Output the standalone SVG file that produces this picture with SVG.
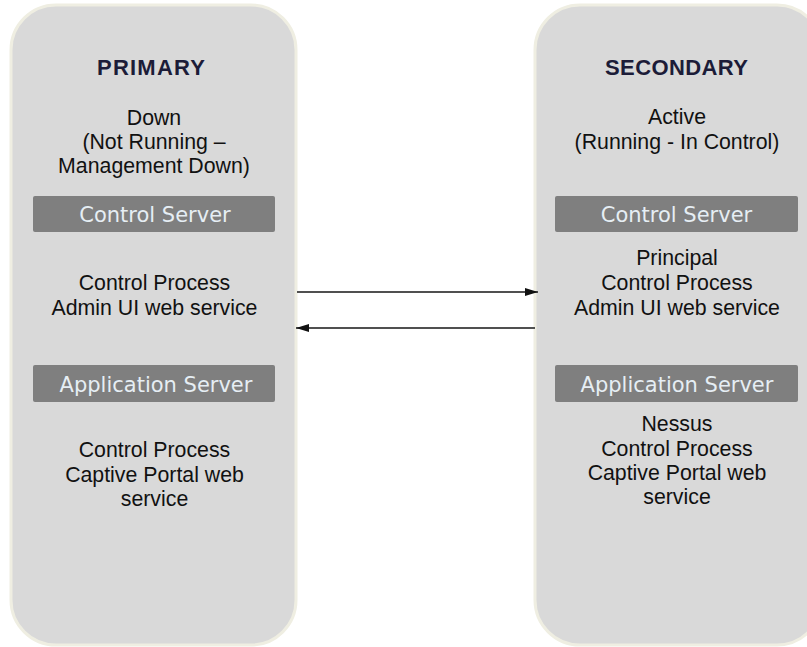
<svg xmlns="http://www.w3.org/2000/svg" width="807" height="647" viewBox="0 0 807 647">
  <defs>
    <style>
      .panel { fill: #d9d9d9; stroke: #efeee2; stroke-width: 3; }
      .bar { fill: #7f7f7f; }
      .bar-label { font-family: "DejaVu Sans", Verdana, sans-serif; font-size: 21px; fill: #e6eef4; text-anchor: middle; }
      .title { font-family: "Liberation Sans", Arial, sans-serif; font-weight: bold; font-size: 22px; fill: #1c1c38; text-anchor: middle; }
      .body { font-family: "Liberation Sans", Arial, sans-serif; font-size: 21.3px; fill: #111111; text-anchor: middle; }
      .link { stroke: #505050; stroke-width: 2; fill: none; }
    </style>
    <marker id="arrowhead" viewBox="0 0 13 8" refX="13" refY="4" markerWidth="13" markerHeight="8" markerUnits="userSpaceOnUse" orient="auto">
      <path d="M0,0 L13,4 L0,8 Z" fill="#111111"/>
    </marker>
  </defs>

  <rect width="807" height="647" fill="#ffffff"/>

  <!-- Primary node -->
  <g id="primary">
    <rect class="panel" x="11" y="5" width="285" height="640" rx="45" ry="45"/>
    <text class="title" x="151" y="75" textLength="108">PRIMARY</text>
    <text class="body" x="154" y="125">Down</text>
    <text class="body" x="154" y="149">(Not Running –</text>
    <text class="body" x="154" y="173">Management Down)</text>
    <rect class="bar" x="33" y="196" width="242" height="36" rx="2"/>
    <text class="bar-label" x="155" y="222">Control Server</text>
    <text class="body" x="154.5" y="290">Control Process</text>
    <text class="body" x="154.5" y="315">Admin UI web service</text>
    <rect class="bar" x="33" y="365" width="242" height="37" rx="2"/>
    <text class="bar-label" x="156" y="392">Application Server</text>
    <text class="body" x="154.5" y="457">Control Process</text>
    <text class="body" x="154.5" y="481.5">Captive Portal web</text>
    <text class="body" x="154.5" y="506">service</text>
  </g>

  <!-- Secondary node -->
  <g id="secondary">
    <rect class="panel" x="535" y="5" width="287" height="640" rx="45" ry="45"/>
    <text class="title" x="676.5" y="75" textLength="143">SECONDARY</text>
    <text class="body" x="677" y="124">Active</text>
    <text class="body" x="677" y="148.5">(Running - In Control)</text>
    <rect class="bar" x="555" y="196" width="243" height="36" rx="2"/>
    <text class="bar-label" x="676.5" y="222">Control Server</text>
    <text class="body" x="677" y="265">Principal</text>
    <text class="body" x="677" y="290">Control Process</text>
    <text class="body" x="677" y="315">Admin UI web service</text>
    <rect class="bar" x="555" y="365" width="243" height="37" rx="2"/>
    <text class="bar-label" x="677" y="392">Application Server</text>
    <text class="body" x="677" y="431">Nessus</text>
    <text class="body" x="677" y="456">Control Process</text>
    <text class="body" x="677" y="480">Captive Portal web</text>
    <text class="body" x="677" y="504">service</text>
  </g>

  <!-- Connectors -->
  <g id="connectors">
    <line class="link" x1="297" y1="292" x2="538" y2="292" marker-end="url(#arrowhead)"/>
    <line class="link" x1="535" y1="328" x2="296" y2="328" marker-end="url(#arrowhead)"/>
  </g>
</svg>
